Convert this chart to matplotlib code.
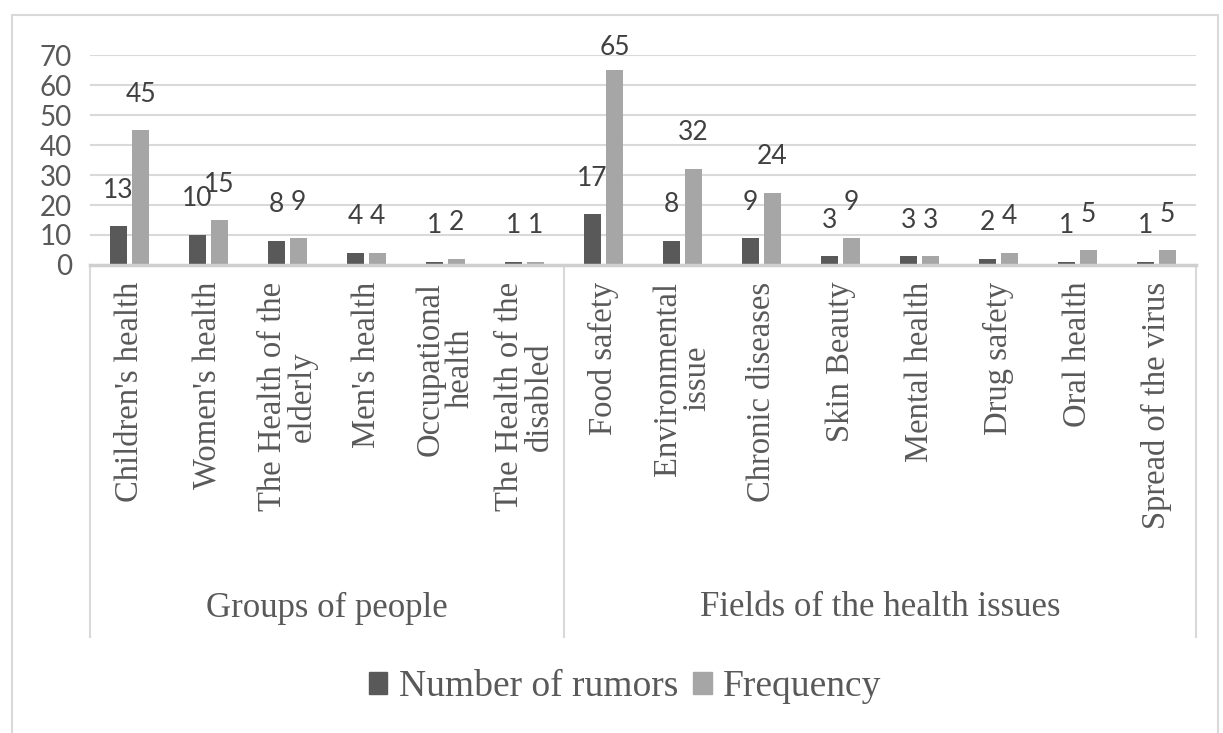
import matplotlib.pyplot as plt
from matplotlib.patches import Patch, Rectangle

# ========= Data =========
categorias = [
    "Children's health", "Women's health", "The Health of the\nelderly",
    "Men's health", "Occupational\nhealth", "The Health of the\ndisabled",
    "Food safety", "Environmental\nissue", "Chronic diseases", "Skin Beauty",
    "Mental health", "Drug safety", "Oral health", "Spread of the virus",
]
grupos = ["Groups of people", "Fields of the health issues"]
tamanho_grupos = [6, 8]
rumores = [13, 10, 8, 4, 1, 1, 17, 8, 9, 3, 3, 2, 1, 1]
frequencia = [45, 15, 9, 4, 2, 1, 65, 32, 24, 9, 3, 4, 5, 5]
series = ["Number of rumors", "Frequency"]

cor_escura = "#595959"
cor_clara = "#a6a6a6"
cor_grade = "#d9d9d9"
cor_texto = "#595959"

W, H = 1223, 733
fig = plt.figure(figsize=(W / 100, H / 100), dpi=100)
x0, x1, y0, y1 = 90, 1196, 265, 55
ax = fig.add_axes([x0 / W, 1 - y0 / H, (x1 - x0) / W, (y0 - y1) / H])

n = len(categorias)
xs = list(range(n))
larg = 0.215
desl = 0.14
ax.bar([x - desl for x in xs], rumores, width=larg, color=cor_escura, zorder=3)
ax.bar([x + desl for x in xs], frequencia, width=larg, color=cor_clara, zorder=3)

# rotulos de dados
for x, v in zip(xs, rumores):
    ax.text(x - desl, min(v + 12, 72.5), str(v), ha="center", va="center",
            fontsize=19, color="#404040", family="Lato", clip_on=False)
for x, v in zip(xs, frequencia):
    ax.text(x + desl, min(v + 12, 72.5), str(v), ha="center", va="center",
            fontsize=19, color="#404040", family="Lato", clip_on=False)

ax.set_xlim(-0.5, n - 0.5)
ax.set_ylim(0, 70)
ax.set_yticks(range(0, 71, 10))
ax.yaxis.grid(True, color=cor_grade, lw=1.5, zorder=0)
ax.set_axisbelow(True)
for s in ax.spines.values():
    s.set_visible(False)
ax.tick_params(axis="y", length=0, pad=13, labelsize=20, labelcolor=cor_texto)
for t in ax.get_yticklabels():
    t.set_family("Lato")

ax.set_xticks(xs)
ax.set_xticklabels(categorias, rotation=90, va="top", ha="center",
                   multialignment="center", family="Liberation Serif",
                   fontsize=23.5, color=cor_texto, linespacing=0.95)
ax.tick_params(axis="x", length=0, pad=12)

# eixo de categorias com dois niveis
tr = ax.get_xaxis_transform()
ax.plot([-0.5, n - 0.5], [0, 0], color="#cfcfcf", lw=2.5, transform=tr,
        clip_on=False, zorder=4)
y_base = (y0 - 637) / (y0 - y1)
y_grupo = (y0 - 608) / (y0 - y1)
inicio = -0.5
limites = [inicio]
for g, tam in zip(grupos, tamanho_grupos):
    fim = inicio + tam
    ax.text((inicio + fim) / 2, y_grupo, g, transform=tr, ha="center", va="center",
            family="Liberation Serif", fontsize=25, color=cor_texto)
    limites.append(fim)
    inicio = fim
for b in limites:
    ax.plot([b, b], [0, y_base], color=cor_grade, lw=1.5, transform=tr, clip_on=False)

# legenda
handles = [Patch(color=cor_escura), Patch(color=cor_clara)]
fig.legend(handles, series, loc="center", bbox_to_anchor=(625 / W, 1 - 687 / H),
           ncol=2, frameon=False, handlelength=0.5, handleheight=0.5,
           handletextpad=0.3, columnspacing=0.4,
           prop={"family": "Liberation Serif", "size": 27}, labelcolor=cor_texto)

# borda externa
fig.add_artist(Rectangle((12 / W, -0.02), (1218 - 12) / W, 1 - 15 / H + 0.02,
                         transform=fig.transFigure, fill=False, ec=cor_grade, lw=1.5))

fig.savefig("out.png", dpi=100)
